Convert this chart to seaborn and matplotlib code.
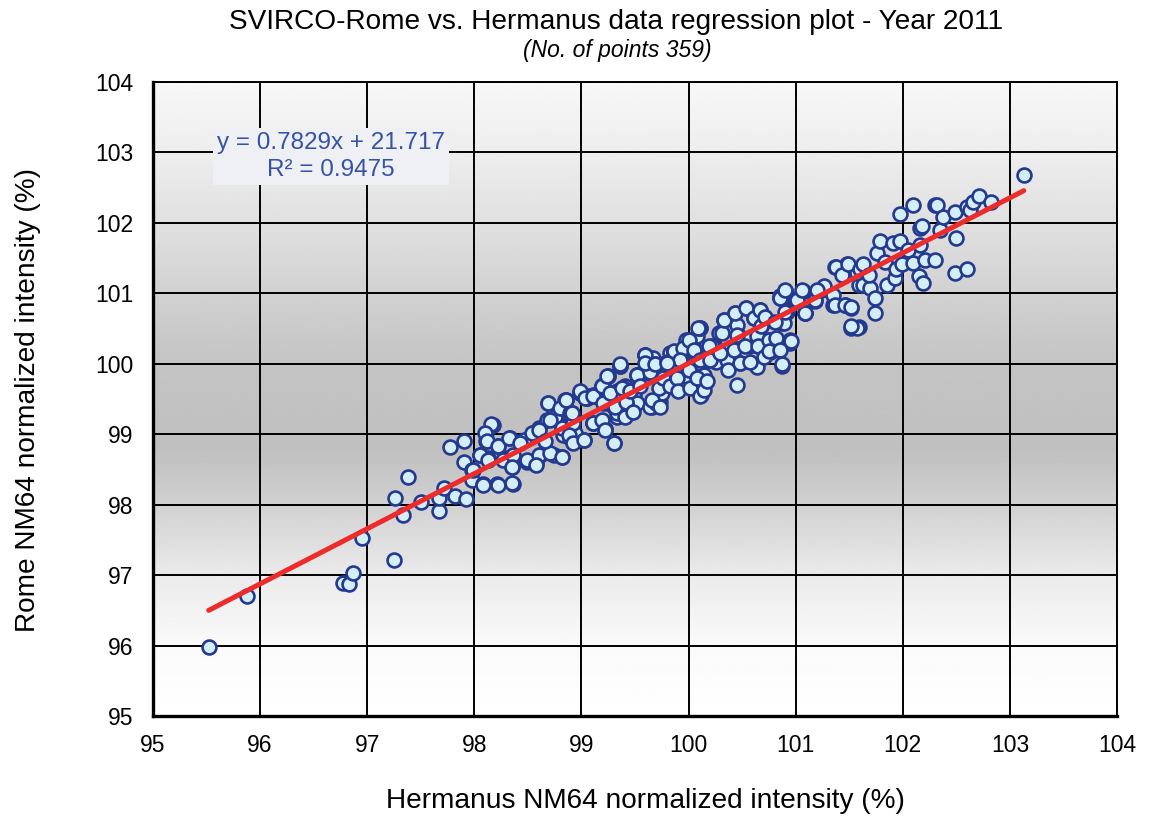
"""
SVIRCO-Rome vs. Hermanus NM64 regression plot, year 2011.
"""
import numpy as np
import pandas as pd
import seaborn as sns
import matplotlib.pyplot as plt

# --- data (Hermanus %, Rome %) ---
# low tail
herm_low = [95.52, 95.88, 96.77, 96.83, 96.87, 96.95, 97.25, 97.26, 97.38, 97.33, 97.50, 97.67,
            97.67, 97.72, 97.82, 97.92, 97.77, 97.90, 97.90, 97.98, 97.98]
rome_low = [95.98, 96.70, 96.89, 96.87, 97.03, 97.52, 97.22, 98.10, 98.39, 97.85, 98.04, 97.91,
            98.10, 98.23, 98.12, 98.08, 98.82, 98.90, 98.60, 98.49, 98.35]

# 98 - 100
herm_mid1 = [98.05, 98.08, 98.21, 98.36, 98.11, 98.17, 98.11, 98.13, 98.22, 98.33, 98.30, 98.36,
             98.35, 98.49, 98.58, 98.61, 98.68, 98.74, 98.82, 98.46, 98.55, 98.60, 98.68, 98.74,
             98.82, 98.83, 98.89, 99.02, 98.94, 98.69, 98.74, 98.82, 98.86, 98.91, 98.99, 99.05,
             99.13, 99.19, 99.25, 99.36, 99.11, 99.22, 99.30, 99.33, 99.41, 99.48, 99.52, 99.59,
             99.62, 99.66, 99.73, 99.70, 99.83, 99.86, 99.84, 99.87, 99.48, 99.45]
rome_mid1 = [98.71, 98.30, 98.29, 98.30, 99.02, 99.13, 98.91, 98.66, 98.83, 98.94, 98.66, 98.64,
             98.54, 98.61, 98.59, 98.71, 98.75, 98.71, 98.68, 98.92, 99.02, 99.09, 99.20, 99.23,
             99.11, 98.99, 98.94, 98.92, 99.02, 99.44, 99.35, 99.37, 99.49, 99.30, 99.58, 99.51,
             99.54, 99.68, 99.82, 99.97, 99.16, 99.07, 98.87, 99.25, 99.66, 99.61, 99.84, 100.13,
             99.89, 99.39, 99.46, 100.01, 100.15, 100.17, 99.99, 99.68, 99.44, 99.32]

# 99 - 101.6
herm_mid2 = [99.36, 99.25, 99.19, 99.11, 99.05, 99.11, 99.22, 99.30, 99.38, 99.33, 99.41, 99.49,
             99.47, 99.52, 99.59, 99.52, 99.64, 99.67, 99.69, 99.64, 99.70, 99.75, 99.77, 99.80,
             99.84, 99.86, 99.92, 99.94, 99.97, 99.98, 100.00, 100.01, 100.06, 100.08, 100.11,
             100.11, 100.14, 100.12, 100.19, 100.22, 100.26, 100.29, 100.33, 100.36, 100.37,
             100.36, 100.43, 100.45, 100.47, 100.45, 100.48, 100.54, 100.56, 100.57, 100.61,
             100.64, 100.65, 100.67, 100.68, 100.73, 100.75, 100.76, 100.82, 100.85, 100.87,
             100.90, 100.92, 100.95, 100.87, 100.99, 101.07, 101.09, 101.18, 101.24, 101.35,
             101.37, 101.45, 101.48, 101.46, 101.52, 101.52, 101.59, 101.59, 101.57]
rome_mid2 = [99.97, 99.82, 99.69, 99.56, 99.54, 99.16, 99.07, 99.39, 99.42, 99.61, 99.68, 99.56,
             99.32, 99.44, 100.13, 99.84, 99.87, 100.08, 99.99, 99.39, 99.44, 99.58, 99.73, 99.87,
             100.01, 100.17, 100.10, 99.80, 99.68, 99.82, 100.34, 100.20, 100.20, 100.39, 100.51,
             100.01, 99.84, 99.56, 100.17, 100.08, 100.22, 100.06, 100.62, 100.34, 100.20,
             100.01, 100.72, 100.55, 100.39, 99.70, 100.01, 100.79, 100.25, 100.36, 100.65,
             99.96, 100.25, 100.77, 100.53, 100.62, 100.34, 100.17, 100.34, 100.93, 100.58,
             101.03, 100.74, 100.29, 99.97, 100.91, 101.03, 100.72, 100.89, 101.05, 100.84,
             101.38, 101.26, 101.41, 100.84, 100.79, 100.51, 100.52, 101.12, 101.29]

# upper tail
herm_high = [100.85, 100.90, 100.92, 100.89, 100.95, 100.99, 101.07, 101.09, 101.18, 101.23,
             101.26, 101.35, 101.37, 101.46, 101.52, 101.38, 101.43, 101.49, 101.60, 101.63,
             101.63, 101.69, 101.68, 101.74, 101.74, 101.57, 101.52, 101.76, 101.79, 101.83,
             101.85, 101.91, 101.93, 101.94, 101.97, 101.99, 102.05, 102.10, 102.15, 102.19,
             102.21, 102.30, 102.16, 102.16, 102.18, 102.35, 102.10, 101.97, 102.30, 102.32,
             102.38, 102.49, 102.50, 102.49, 102.60, 102.60, 102.63, 102.66, 102.71, 102.82,
             103.13]
rome_high = [100.96, 101.00, 100.77, 100.58, 100.34, 100.91, 101.03, 100.72, 100.91, 101.05,
             101.10, 100.98, 100.84, 100.84, 100.81, 101.38, 101.26, 101.41, 101.34, 101.41,
             101.12, 101.08, 101.26, 100.93, 100.72, 100.51, 100.53, 101.57, 101.74, 101.45,
             101.12, 101.71, 101.22, 101.34, 101.74, 101.41, 101.62, 101.43, 101.24, 101.14,
             101.48, 101.48, 101.69, 101.93, 101.95, 101.90, 102.26, 102.12, 102.26, 102.26,
             102.09, 102.16, 101.78, 101.29, 101.34, 102.23, 102.19, 102.29, 102.38, 102.29,
             102.68]

# dense core, second pass
herm_core = [98.16, 98.10, 98.12, 98.05, 98.13, 98.22, 98.27, 98.32, 98.36, 98.35, 98.43, 98.49,
             98.54, 98.60, 98.60, 98.58, 98.71, 98.82, 98.66, 98.69, 98.75, 98.71, 98.85, 98.80,
             98.89, 98.82, 98.92, 98.88, 98.92, 99.02, 98.99, 99.05, 99.13, 99.11, 99.19, 99.20,
             99.22, 99.24, 99.30, 99.33, 99.30, 99.39, 99.42, 99.41, 97.99, 98.08, 98.22, 98.35,
             98.86, 98.91, 98.99, 99.03, 99.11, 99.19, 99.24, 99.20, 99.27, 99.31, 99.36, 99.38,
             99.42, 99.45, 99.48, 99.52, 99.55, 99.59, 99.64, 99.59, 99.66, 99.69, 99.72, 99.73,
             99.76, 99.80, 99.83, 99.86, 99.84, 99.89, 99.90, 99.94, 99.97, 100.00, 100.01, 100.04,
             100.11, 100.08, 100.11, 100.14, 100.17, 100.19, 100.22, 100.26, 100.28, 99.98,
             99.86, 99.95, 100.00, 100.05, 100.09, 100.11, 100.19, 100.20, 100.31, 100.33, 100.36,
             100.37, 100.42, 100.43, 100.45, 100.48, 100.53, 100.54, 100.57, 100.61, 100.64,
             100.65, 100.67, 100.68, 100.70, 100.71, 100.75, 100.75, 100.82, 100.85, 100.87,
             100.85, 100.90, 100.90, 100.96, 101.01, 101.06, 101.09, 101.20, 100.81, 100.29,
             99.92, 99.80]
rome_core = [99.14, 99.02, 98.90, 98.71, 98.64, 98.83, 98.64, 98.94, 98.71, 98.54, 98.87, 98.64,
             99.02, 99.06, 98.71, 98.57, 98.73, 98.68, 98.90, 99.44, 99.25, 99.20, 99.49, 99.37,
             99.30, 99.09, 99.16, 98.99, 98.87, 98.92, 99.58, 99.51, 99.56, 99.16, 99.20, 99.70,
             99.06, 99.44, 99.58, 99.30, 98.87, 99.65, 99.44, 99.25, 98.49, 98.28, 98.28, 98.31,
             99.49, 99.30, 99.61, 99.51, 99.54, 99.68, 99.82, 99.44, 99.58, 99.39, 99.99, 99.65,
             99.46, 99.61, 99.32, 99.84, 99.68, 100.13, 99.89, 100.01, 99.49, 99.99, 99.65, 99.39,
             99.80, 100.03, 99.68, 100.17, 100.01, 99.80, 99.61, 100.08, 100.25, 99.91, 99.65,
             100.18, 100.51, 99.80, 99.54, 99.63, 99.75, 100.06, 100.25, 100.03, 100.44, 100.34,
             100.18, 100.22, 100.34, 100.20, 100.51, 100.06, 100.25, 100.06, 100.44, 100.62,
             100.06, 99.91, 100.20, 100.72, 100.41, 100.01, 100.25, 100.79, 100.03, 100.65,
             100.39, 100.25, 100.77, 100.53, 100.10, 100.67, 100.34, 100.18, 100.36, 100.20,
             99.99, 100.93, 101.05, 100.74, 100.32, 100.91, 101.05, 100.72, 101.05, 100.60,
             100.15, 100.06, 100.01]

slope, intercept, r2 = 0.7829, 21.717, 0.9475
n_points = 359

df = pd.DataFrame({
    'Hermanus': herm_low + herm_mid1 + herm_mid2 + herm_high + herm_core,
    'Rome': rome_low + rome_mid1 + rome_mid2 + rome_high + rome_core,
})

sns.set_style("white", {"text.color": "black", "xtick.color": "black", "ytick.color": "black"})
plt.rcParams['font.family'] = ['Liberation Sans', 'DejaVu Sans']

fig = plt.figure(figsize=(11.51, 8.21), dpi=100)
ax = fig.add_axes([153 / 1151, 1 - 716 / 821, (1117 - 153) / 1151, (716 - 82) / 821])

# vertical grey gradient behind the plot (light - grey - white)
gy = np.linspace(95, 104, 400)
shade = np.interp(gy, [95, 96, 97, 98, 98.8, 100, 101, 102, 103, 104],
                  [1.0, 0.98, 0.92, 0.82, 0.75, 0.77, 0.82, 0.88, 0.93, 0.97])
ax.imshow(shade[:, None], extent=[95, 104, 95, 104], origin='lower', aspect='auto',
          cmap='gray', vmin=0, vmax=1, zorder=0)

ax.set_axisbelow(True)
ax.grid(True, color='black', linewidth=1.4)

sns.scatterplot(data=df, x='Hermanus', y='Rome', ax=ax, s=100, color='#d4eef7',
                edgecolor='#23398f', linewidth=1.9, zorder=3)

# regression line over data range
xl = np.array([df.Hermanus.min(), df.Hermanus.max()])
sns.lineplot(x=xl, y=slope * xl + intercept, ax=ax, color='#ee2b2b', linewidth=3.6, zorder=4)

ax.set_xlim(95, 104)
ax.set_ylim(95, 104)
ax.set_xticks(range(95, 105))
ax.set_yticks(range(95, 105))
ax.tick_params(length=0, labelsize=16.5, labelcolor='black')
ax.tick_params(axis='x', pad=13)
ax.tick_params(axis='y', pad=14)
ax.set_xlabel('')
ax.set_ylabel('')
for s in ['left', 'bottom']:
    ax.spines[s].set_linewidth(2.4)
for s in ['top', 'right']:
    ax.spines[s].set_linewidth(1.4)
for s in ax.spines.values():
    s.set_color('black')

ax.text(96.66, 102.94, f'y = {slope}x + {intercept}\nR² = {r2}', ha='center', va='center',
        fontsize=17.5, color='#3552a6', linespacing=1.3, zorder=5,
        bbox=dict(facecolor='#eef0f3', edgecolor='none', pad=3))

fig.text(616 / 1151, 1 - 22 / 821, 'SVIRCO-Rome vs. Hermanus data regression plot - Year 2011',
         ha='center', va='center', fontsize=20.2, color='black')
fig.text(617 / 1151, 1 - 51 / 821, f'(No. of points {n_points})', ha='center', va='center',
         fontsize=16.5, style='italic', color='black')
fig.text(645 / 1151, 1 - 801 / 821, 'Hermanus NM64 normalized intensity (%)', ha='center',
         va='center', fontsize=20.2, color='black')
fig.text(28 / 1151, 1 - 400 / 821, 'Rome NM64 normalized intensity (%)', ha='center',
         va='center', fontsize=20.2, rotation=90, color='black')

plt.savefig('out.png', dpi=100)
